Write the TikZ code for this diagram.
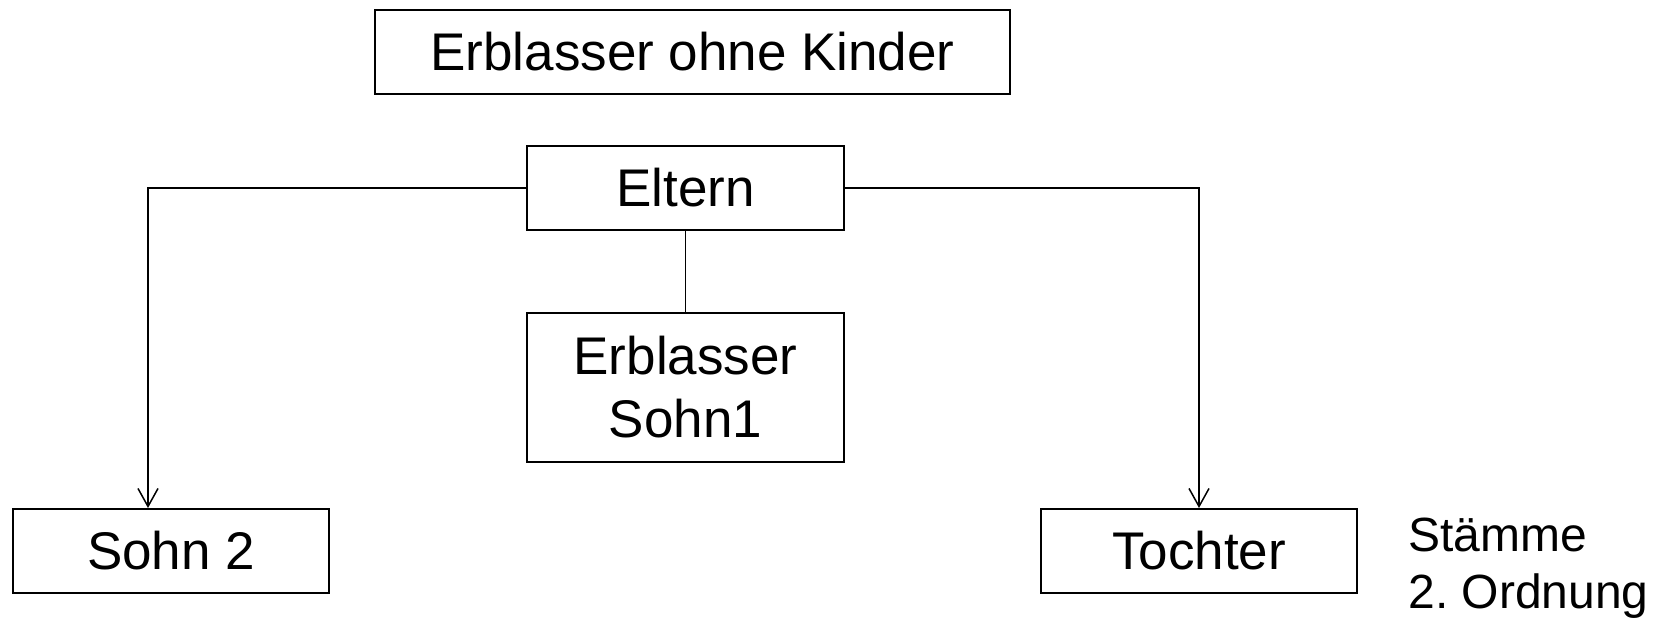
\documentclass[tikz,border=0pt]{standalone}
\usepackage{fontspec}
\setmainfont{Liberation Sans}
\usetikzlibrary{arrows.meta}
\begin{document}
\begin{tikzpicture}[x=0.5pt,y=-0.5pt,
    box/.style={draw,line width=1pt,inner sep=0pt,align=center,
      minimum width=158.5pt,minimum height=42pt,
      font=\fontsize{26.5}{31.8}\selectfont},
    >={Straight Barb[length=9pt,width=10pt]}]
    \useasboundingbox (0,0) rectangle (1658,617);

    \node[box,minimum width=317.5pt] (K)  at (692.5,52)  {Erblasser ohne Kinder};
    \node[box]                       (E)  at (685.5,188) {Eltern};
    \node[box,minimum height=74.5pt] (S1) at (685.5,387) {Erblasser\\Sohn1};
    \node[box,minimum width=158pt]   (S2) at (171,551)   {Sohn 2};
    \node[box,minimum width=158pt]   (T)  at (1199,551)  {Tochter};
    \node[anchor=north west,inner sep=0pt,align=left,
          font=\fontsize{24}{28.5}\selectfont] (N) at (1408,518) {Stämme\\2.\ Ordnung};

    \draw [line width=0.75pt]    (E) -- (S1);
    \draw [->,line width=0.75pt] (E.west) -| ([xshift=-11.5pt]S2.north);
    \draw [->,line width=0.75pt] (E.east) -| (T.north);
\end{tikzpicture}
\end{document}
